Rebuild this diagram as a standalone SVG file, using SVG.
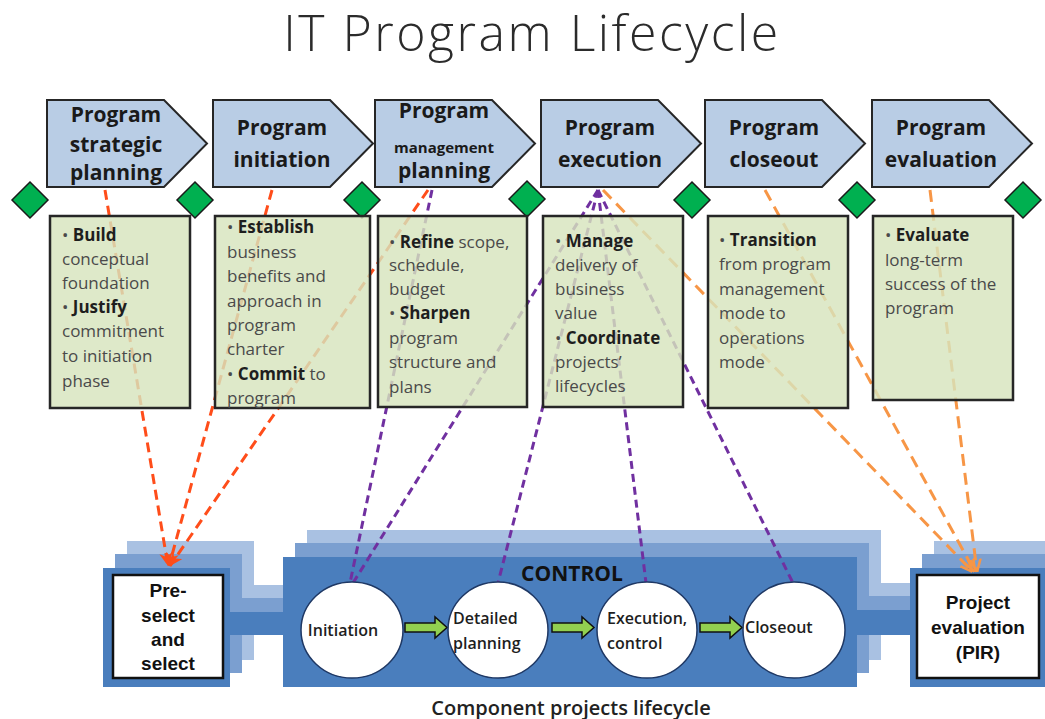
<svg xmlns="http://www.w3.org/2000/svg" width="1045" height="719" viewBox="0 0 1045 719">
<defs>
<style>
.title{font-family:"Open Sans","Liberation Sans",sans-serif;font-size:50px;font-weight:300;letter-spacing:2.5px;fill:#2b2b2b;text-anchor:middle}
.pent{fill:#b9cde5;stroke:#262626;stroke-width:2}
.ph{font-family:"Open Sans","Liberation Sans",sans-serif;font-weight:700;font-size:21px;fill:#1a1a1a;text-anchor:middle}
.box{fill:#d7e4bd;fill-opacity:0.82;stroke:#262626;stroke-width:2.5}
.bt{font-family:"Open Sans","Liberation Sans",sans-serif;font-size:17px;fill:#4a4a4a}
.bt tspan.b{font-weight:700;fill:#1e1e1e}
.dia{fill:#00b050;stroke:#1a1a1a;stroke-width:1.5}
.red{fill:none;stroke:#ff4d1a;stroke-width:3;stroke-dasharray:10 6}
.pur{fill:none;stroke:#7030a0;stroke-width:3;stroke-dasharray:8 5}
.org{fill:none;stroke:#f79646;stroke-width:3;stroke-dasharray:12 7}
.circ{fill:#ffffff;stroke:#1f3864;stroke-width:1.5}
.ct{font-family:"Open Sans","Liberation Sans",sans-serif;font-weight:600;font-size:16px;fill:#1e1e1e}
.wb{fill:#ffffff;stroke:#111111;stroke-width:2.5}
.wt{font-family:"Liberation Sans",Arial,sans-serif;font-weight:700;font-size:19px;fill:#111111;text-anchor:middle}
.garr{fill:#92d050;stroke:#111111;stroke-width:1.5}
</style>
<marker id="mr" viewBox="0 0 10 10" refX="10" refY="5" markerWidth="13" markerHeight="13" markerUnits="userSpaceOnUse" orient="auto">
<path d="M0,0 L10,5 L0,10 L3,5 Z" fill="#ff4d1a"/>
</marker>
<marker id="mo" viewBox="0 0 10 10" refX="10" refY="5" markerWidth="13" markerHeight="13" markerUnits="userSpaceOnUse" orient="auto">
<path d="M0,1 L10,5 L0,9" fill="none" stroke="#f79646" stroke-width="2"/>
</marker>
<path id="bell" d="M103,568 H230 V612 H283 V557 H857 V610 H910 V568 H1045 V687 H910 V635 H857 V687 H283 V635 H230 V687 H103 Z"/>
<polygon id="dm" points="0,-18 18,0 0,18 -18,0"/>
</defs>

<text class="title" x="532" y="51">IT Program Lifecycle</text>

<g id="lifecycle-band">
<use href="#bell" transform="translate(24,-27)" fill="#a9c1e2"/>
<use href="#bell" transform="translate(12,-14)" fill="#7b9fd0"/>
<use href="#bell" fill="#4a7ebd"/>
</g>

<g id="connectors">
<line class="red" x1="105" y1="190" x2="168" y2="566" marker-end="url(#mr)"/>
<line class="red" x1="272" y1="190" x2="169" y2="566" marker-end="url(#mr)"/>
<line class="red" x1="428" y1="190" x2="170" y2="566" marker-end="url(#mr)"/>
<line class="pur" x1="432" y1="190" x2="350" y2="583"/>
<line class="pur" x1="598" y1="190" x2="353" y2="583"/>
<line class="pur" x1="598" y1="190" x2="498" y2="583"/>
<line class="pur" x1="598" y1="190" x2="646" y2="583"/>
<line class="pur" x1="598" y1="190" x2="793" y2="583"/>
<line class="org" x1="603" y1="190" x2="973" y2="572" marker-end="url(#mo)"/>
<line class="org" x1="765" y1="190" x2="975" y2="572" marker-end="url(#mo)"/>
<line class="org" x1="930" y1="190" x2="977" y2="572" marker-end="url(#mo)"/>
<path class="garr" d="M405,623 H435 V617 L447,627.5 L435,638 V632 H405 Z"/>
<path class="garr" d="M552,623 H582 V617 L594,627.5 L582,638 V632 H552 Z"/>
<path class="garr" d="M700,623 H730 V617 L742,627.5 L730,638 V632 H700 Z"/>
</g>

<g id="diamonds">
<use href="#dm" class="dia" x="30" y="200"/>
<use href="#dm" class="dia" x="195" y="200"/>
<use href="#dm" class="dia" x="362" y="200"/>
<use href="#dm" class="dia" x="527" y="199"/>
<use href="#dm" class="dia" x="692" y="200"/>
<use href="#dm" class="dia" x="857" y="200"/>
<use href="#dm" class="dia" x="1023" y="200"/>
</g>

<g id="phase1">
<polygon class="pent" points="47,100 164,100 207,143.5 164,187 47,187"/>
<text class="ph"><tspan x="116" y="122">Program</tspan><tspan x="116" y="152">strategic</tspan><tspan x="116" y="180">planning</tspan></text>
<rect class="box" x="50" y="216" width="140" height="192"/>
<text class="bt"><tspan x="62" y="241">• <tspan class="b">Build</tspan></tspan><tspan x="62" y="265">conceptual</tspan><tspan x="62" y="289">foundation</tspan><tspan x="62" y="313">• <tspan class="b">Justify</tspan></tspan><tspan x="62" y="337">commitment</tspan><tspan x="62" y="362">to initiation</tspan><tspan x="62" y="387">phase</tspan></text>
</g>

<g id="phase2">
<polygon class="pent" points="213,100 330,100 373,143.5 330,187 213,187"/>
<text class="ph"><tspan x="282" y="135">Program</tspan><tspan x="282" y="167">initiation</tspan></text>
<rect class="box" x="215" y="216" width="155" height="192"/>
<text class="bt"><tspan x="227" y="233">• <tspan class="b">Establish</tspan></tspan><tspan x="227" y="258">business</tspan><tspan x="227" y="282">benefits and</tspan><tspan x="227" y="307">approach in</tspan><tspan x="227" y="331">program</tspan><tspan x="227" y="355">charter</tspan><tspan x="227" y="380">• <tspan class="b">Commit</tspan> to</tspan><tspan x="227" y="404">program</tspan></text>
</g>

<g id="phase3">
<polygon class="pent" points="375,100 492,100 535,143.5 492,187 375,187"/>
<text class="ph"><tspan x="444" y="118">Program</tspan><tspan x="444" y="153" font-size="15">management</tspan><tspan x="444" y="178">planning</tspan></text>
<rect class="box" x="378" y="216" width="149" height="191"/>
<text class="bt"><tspan x="389" y="248">• <tspan class="b">Refine</tspan> scope,</tspan><tspan x="389" y="271">schedule,</tspan><tspan x="389" y="295">budget</tspan><tspan x="389" y="319">• <tspan class="b">Sharpen</tspan></tspan><tspan x="389" y="344">program</tspan><tspan x="389" y="368">structure and</tspan><tspan x="389" y="393">plans</tspan></text>
</g>

<g id="phase4">
<polygon class="pent" points="541,100 658,100 701,143.5 658,187 541,187"/>
<text class="ph"><tspan x="610" y="135">Program</tspan><tspan x="610" y="167">execution</tspan></text>
<rect class="box" x="543" y="216" width="140" height="191"/>
<text class="bt"><tspan x="555" y="247">• <tspan class="b">Manage</tspan></tspan><tspan x="555" y="271">delivery of</tspan><tspan x="555" y="295">business</tspan><tspan x="555" y="319">value</tspan><tspan x="555" y="344">• <tspan class="b">Coordinate</tspan></tspan><tspan x="555" y="368">projects’</tspan><tspan x="555" y="392">lifecycles</tspan></text>
</g>

<g id="phase5">
<polygon class="pent" points="705,100 822,100 865,143.5 822,187 705,187"/>
<text class="ph"><tspan x="774" y="135">Program</tspan><tspan x="774" y="167">closeout</tspan></text>
<rect class="box" x="708" y="216" width="140" height="192"/>
<text class="bt"><tspan x="719" y="246">• <tspan class="b">Transition</tspan></tspan><tspan x="719" y="270">from program</tspan><tspan x="719" y="295">management</tspan><tspan x="719" y="319">mode to</tspan><tspan x="719" y="344">operations</tspan><tspan x="719" y="368">mode</tspan></text>
</g>

<g id="phase6">
<polygon class="pent" points="872,100 989,100 1032,143.5 989,187 872,187"/>
<text class="ph"><tspan x="941" y="135">Program</tspan><tspan x="941" y="167">evaluation</tspan></text>
<rect class="box" x="873" y="216" width="140" height="184"/>
<text class="bt"><tspan x="885" y="241">• <tspan class="b">Evaluate</tspan></tspan><tspan x="885" y="266">long-term</tspan><tspan x="885" y="290">success of the</tspan><tspan x="885" y="314">program</tspan></text>
</g>

<g id="preselect">
<rect class="wb" x="113" y="575" width="110" height="103"/>
<text class="wt"><tspan x="168" y="597">Pre-</tspan><tspan x="168" y="622">select</tspan><tspan x="168" y="646">and</tspan><tspan x="168" y="670">select</tspan></text>
</g>

<g id="control">
<text x="572" y="581" font-family="'Open Sans','Liberation Sans',sans-serif" font-weight="700" font-size="21" fill="#111111" text-anchor="middle">CONTROL</text>
</g>

<g id="initiation">
<ellipse class="circ" cx="352" cy="630" rx="51" ry="48"/>
<text class="ct" x="343" y="636" text-anchor="middle">Initiation</text>
</g>
<g id="detailed-planning">
<ellipse class="circ" cx="498" cy="630" rx="50" ry="48"/>
<text class="ct"><tspan x="453" y="624">Detailed</tspan><tspan x="453" y="649">planning</tspan></text>
</g>
<g id="execution-control">
<ellipse class="circ" cx="647" cy="630" rx="50" ry="48"/>
<text class="ct"><tspan x="607" y="624">Execution,</tspan><tspan x="607" y="649">control</tspan></text>
</g>
<g id="closeout">
<ellipse class="circ" cx="794" cy="630" rx="51" ry="48"/>
<text class="ct" x="745" y="633">Closeout</text>
</g>

<g id="project-evaluation">
<rect class="wb" x="917" y="575" width="122" height="103"/>
<text class="wt"><tspan x="978" y="609">Project</tspan><tspan x="978" y="634">evaluation</tspan><tspan x="978" y="659">(PIR)</tspan></text>
</g>

<text x="571" y="715" font-family="'Open Sans','Liberation Sans',sans-serif" font-weight="600" font-size="20" fill="#222222" text-anchor="middle">Component projects lifecycle</text>
</svg>
